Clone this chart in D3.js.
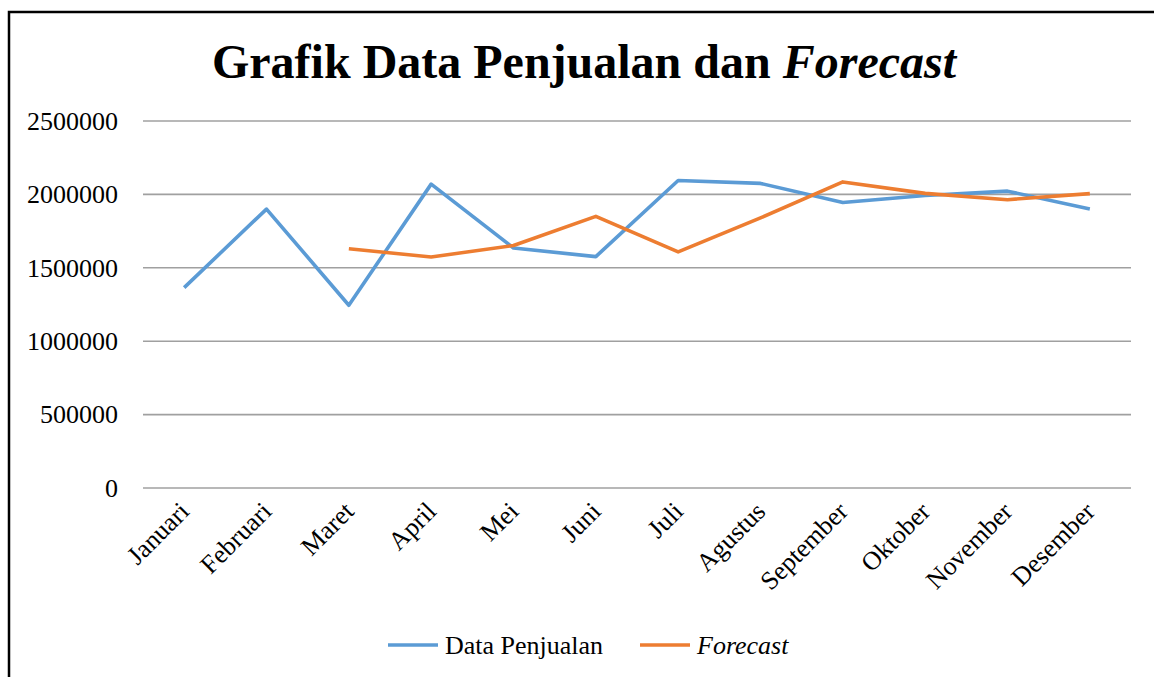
<!DOCTYPE html>
<html>
<head>
<meta charset="utf-8">
<title>Grafik Data Penjualan dan Forecast</title>
<script src="https://d3js.org/d3.v7.min.js"></script>
<style>
  body { margin: 0; background: #fff; }
  svg { display: block; font-family: "Liberation Serif", "Times New Roman", serif; }
</style>
</head>
<body>
<div id="vis"></div>
<script>
// data
var bulan = ["Januari", "Februari", "Maret", "April", "Mei", "Juni", "Juli",
             "Agustus", "September", "Oktober", "November", "Desember"];
var penjualan = [1365000, 1900000, 1245000, 2070000, 1635000, 1576000, 2095000,
                 2075000, 1945000, 1992000, 2022000, 1900000];
var forecast = [null, null, 1630000, 1574000, 1652000, 1850000, 1608000,
                1840000, 2085000, 2007000, 1964000, 2005000];
var yTicks = [0, 500000, 1000000, 1500000, 2000000, 2500000];

var W = 1154, H = 677;
var plotLeft = 143, plotRight = 1131, plotTop = 121, plotBottom = 488;

var svg = d3.select("#vis").append("svg")
  .attr("width", W)
  .attr("height", H);

// outer frame (runs past the right and bottom edge)
svg.append("rect")
  .attr("x", 9).attr("y", 12)
  .attr("width", 1170).attr("height", 700)
  .attr("fill", "none")
  .attr("stroke", "#000")
  .attr("stroke-width", 2.5);

// title
var title = svg.append("text")
  .attr("x", 584).attr("y", 78)
  .attr("text-anchor", "middle")
  .attr("font-size", 48)
  .attr("font-weight", "bold");
title.append("tspan").text("Grafik Data Penjualan dan ");
title.append("tspan").attr("font-style", "italic").text("Forecast");

var x = d3.scalePoint()
  .domain(bulan)
  .range([plotLeft, plotRight])
  .padding(0.5);

var y = d3.scaleLinear()
  .domain([0, 2500000])
  .range([plotBottom, plotTop]);

// gridlines
svg.append("g")
  .selectAll("line")
  .data(yTicks)
  .enter().append("line")
  .attr("x1", plotLeft).attr("x2", plotRight)
  .attr("y1", function(d){ return y(d); })
  .attr("y2", function(d){ return y(d); })
  .attr("stroke", "#a0a0a0")
  .attr("stroke-width", 1.6);

// y axis labels
var yAxis = d3.axisLeft(y).tickValues(yTicks).tickSize(0).tickPadding(0)
  .tickFormat(function(d){ return String(d); });
var gy = svg.append("g")
  .attr("transform", "translate(118,0)")
  .call(yAxis);
gy.select(".domain").remove();
gy.selectAll("text")
  .attr("font-family", "Liberation Serif, Times New Roman, serif")
  .attr("font-size", 26)
  .attr("fill", "#000");

// x axis labels, rotated
var xAxis = d3.axisBottom(x).tickSize(0).tickPadding(0);
var gx = svg.append("g")
  .attr("transform", "translate(0," + plotBottom + ")")
  .call(xAxis);
gx.select(".domain").remove();
gx.selectAll("text")
  .attr("font-family", "Liberation Serif, Times New Roman, serif")
  .attr("font-size", 26)
  .attr("fill", "#000")
  .attr("text-anchor", "end")
  .attr("dy", 0)
  .attr("y", 0)
  .attr("transform", "translate(6,25) rotate(-45)");

// lines
var line = d3.line()
  .defined(function(d){ return d.v != null; })
  .x(function(d){ return x(d.b); })
  .y(function(d){ return y(d.v); });

function series(vals) {
  return bulan.map(function(b, i){ return {b: b, v: vals[i]}; });
}

svg.append("path")
  .datum(series(penjualan))
  .attr("d", line)
  .attr("fill", "none")
  .attr("stroke", "#5b9bd5")
  .attr("stroke-width", 3.6)
  .attr("stroke-linejoin", "round");

svg.append("path")
  .datum(series(forecast))
  .attr("d", line)
  .attr("fill", "none")
  .attr("stroke", "#ed7d31")
  .attr("stroke-width", 3.6)
  .attr("stroke-linejoin", "round");

// legend
var legend = [
  {name: "Data Penjualan", color: "#5b9bd5", italic: false, x: 388},
  {name: "Forecast", color: "#ed7d31", italic: true, x: 640}
];
var lg = svg.append("g").selectAll("g")
  .data(legend)
  .enter().append("g")
  .attr("transform", function(d){ return "translate(" + d.x + ",645)"; });
lg.append("line")
  .attr("x1", 0).attr("x2", 50)
  .attr("stroke", function(d){ return d.color; })
  .attr("stroke-width", 3.6);
lg.append("text")
  .attr("x", 57).attr("y", 9)
  .attr("font-size", 26)
  .attr("font-style", function(d){ return d.italic ? "italic" : "normal"; })
  .text(function(d){ return d.name; });
</script>
</body>
</html>
